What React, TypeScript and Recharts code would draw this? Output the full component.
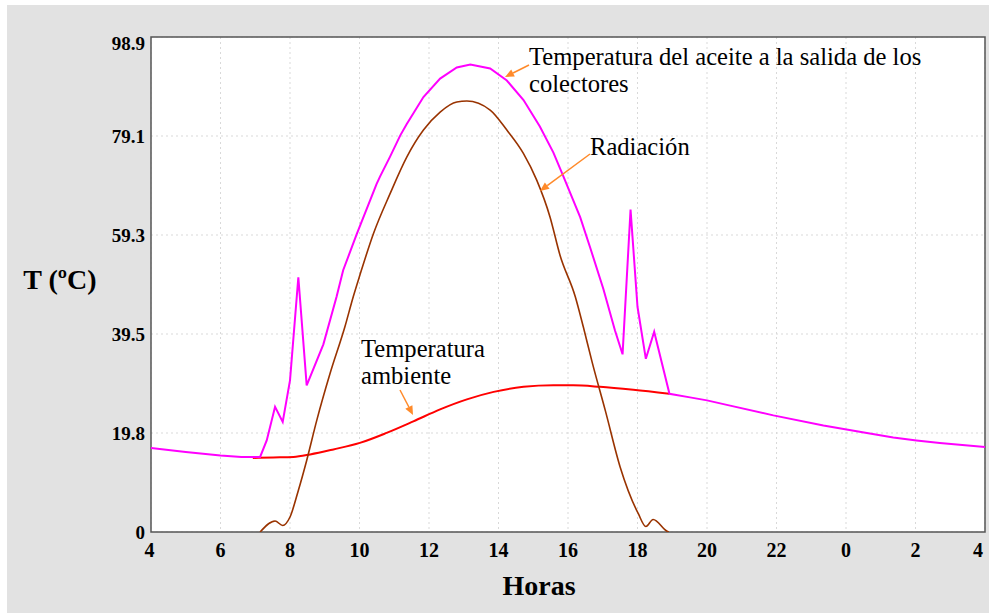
import React from "react";
import { LineChart, Line, XAxis, YAxis, CartesianGrid, ReferenceArea } from "recharts";

// Hours run from 4 h of one day to 4 h of the next (28 = 4 h next day)
const xTicks = [4, 6, 8, 10, 12, 14, 16, 18, 20, 22, 24, 26, 28];
const xTickLabels = ["4", "6", "8", "10", "12", "14", "16", "18", "20", "22", "0", "2", "4"];
const yTicks = [0, 19.78, 39.56, 59.34, 79.12, 98.9];
const yTickLabels = ["0", "19.8", "39.5", "59.3", "79.1", "98.9"];

// Temperatura del aceite a la salida de los colectores
const oilHours = [4, 5, 6, 6.6, 7.14, 7.33, 7.57, 7.79, 8.0, 8.24, 8.48, 8.96, 9.34, 9.53, 9.92, 10.49, 10.59, 10.88, 11.17, 11.36, 11.84, 12.32, 12.8, 13.19, 13.76, 14.24, 14.72, 15.19, 15.58, 15.87, 16.35, 16.63, 17.02, 17.35, 17.57, 17.8, 18.0, 18.24, 18.48, 18.92, 19.51, 20.0, 20.57, 21.91, 23.35, 24.6, 25.36, 26.03, 26.7, 28];
const oilTemp = [16.8, 16.0, 15.3, 15.0, 15.0, 18.3, 25.0, 22.0, 30.3, 50.9, 29.3, 37.5, 47.0, 52.3, 59.5, 69.5, 71.0, 75.0, 79.2, 81.5, 86.9, 90.6, 92.8, 93.4, 92.6, 90.2, 86.3, 81.0, 75.8, 71.0, 62.9, 57.0, 48.5, 40.3, 35.5, 64.4, 45.0, 34.6, 40.0, 27.6, 26.9, 26.3, 25.4, 23.3, 21.3, 19.8, 18.9, 18.3, 17.8, 17.0];

// Temperatura ambiente
const ambHours = [6.93, 7.52, 8.1, 8.58, 9.25, 10.01, 10.78, 11.55, 12.32, 13.09, 13.86, 14.72, 15.58, 16.15, 16.92, 17.88, 18.92];
const ambTemp = [14.8, 14.9, 15.0, 15.5, 16.5, 17.8, 19.8, 22.1, 24.5, 26.5, 28.0, 29.0, 29.3, 29.3, 29.0, 28.4, 27.6];

// Radiación
const radHours = [7.14, 7.57, 7.79, 8.0, 8.24, 8.48, 8.77, 9.15, 9.58, 9.82, 10.01, 10.4, 10.88, 11.36, 11.84, 12.32, 12.8, 13.09, 13.76, 14.24, 14.72, 15.1, 15.48, 15.77, 16.21, 16.44, 16.7, 17.08, 17.5, 18.02, 18.24, 18.45, 18.84, 18.9];
const radValues = [0, 2.2, 1.3, 3.0, 8.3, 14.3, 22.3, 31.6, 41.0, 47.0, 51.3, 59.6, 67.6, 74.9, 80.3, 83.9, 85.9, 86.1, 84.3, 80.3, 75.6, 70.3, 63.0, 55.3, 47.0, 41.0, 33.8, 24.1, 13.0, 3.7, 1.1, 2.5, 0.2, 0];

const oilData = oilHours.map((h, i) => ({ h, v: oilTemp[i] }));
const ambData = ambHours.map((h, i) => ({ h, v: ambTemp[i] }));
const radData = radHours.map((h, i) => ({ h, v: radValues[i] }));

const SERIF = '"Liberation Serif", "Times New Roman", serif';
const ORANGE = "#ff8a2a";

const YTick = (props: any) => {
  const { x, y, index } = props;
  const off = index === yTicks.length - 1 ? 6 : 0;
  return (
    <text x={x} y={y + off} dy="0.355em" textAnchor="end" fontFamily={SERIF} fontWeight="bold" fontSize={19} fill="#000">
      {yTickLabels[index]}
    </text>
  );
};

const XTick = (props: any) => {
  const { x, y, index } = props;
  let off = 0;
  if (index === 0) off = -1.5;
  if (index === xTicks.length - 1) off = -7;
  return (
    <text x={x + off} y={y} dy="0.71em" textAnchor="middle" fontFamily={SERIF} fontWeight="bold" fontSize={20} fill="#000">
      {xTickLabels[index]}
    </text>
  );
};

function Arrow({ x1, y1, x2, y2 }: { x1: number; y1: number; x2: number; y2: number }) {
  const dx = x2 - x1;
  const dy = y2 - y1;
  const len = Math.sqrt(dx * dx + dy * dy);
  const ux = dx / len;
  const uy = dy / len;
  const hl = 9;
  const hw = 4;
  const bx = x2 - ux * hl;
  const by = y2 - uy * hl;
  const pts = `${x2},${y2} ${bx - uy * hw},${by + ux * hw} ${bx + uy * hw},${by - ux * hw}`;
  return (
    <g>
      <line x1={x1} y1={y1} x2={bx} y2={by} stroke={ORANGE} strokeWidth={1.5} />
      <polygon points={pts} fill={ORANGE} />
    </g>
  );
}

export default function App() {
  return (
    <div style={{ position: "absolute", left: 0, top: 0, width: 989, height: 615, background: "#ffffff" }}>
      <div style={{ position: "absolute", left: 7, top: 5, width: 982, height: 608, background: "#e2e2e2" }} />
      <div style={{ position: "absolute", left: 0, top: 0 }}>
        <LineChart width={989} height={615} margin={{ top: 37, right: 4, left: 0, bottom: 0 }}>
          <CartesianGrid fill="#ffffff" fillOpacity={1} stroke="#d9d9d9" strokeDasharray="2 3" verticalValues={xTicks} horizontalValues={yTicks} />
          <XAxis
            dataKey="h"
            type="number"
            domain={[4, 28]}
            ticks={xTicks}
            interval={0}
            allowDataOverflow
            height={83}
            axisLine={false}
            tickLine={false}
            tickSize={0}
            tickMargin={11}
            tick={<XTick />}
          />
          <YAxis
            type="number"
            domain={[0, 98.9]}
            ticks={yTicks}
            interval={0}
            allowDataOverflow
            width={151}
            axisLine={false}
            tickLine={false}
            tickSize={0}
            tickMargin={6}
            tick={<YTick />}
          />
          <Line data={ambData} dataKey="v" type="monotone" stroke="#ff0000" strokeWidth={2} dot={false} isAnimationActive={false} />
          <Line data={oilData} dataKey="v" type="linear" stroke="#ff00ff" strokeWidth={2} dot={false} isAnimationActive={false} />
          <Line data={radData} dataKey="v" type="monotone" stroke="#993300" strokeWidth={1.6} dot={false} isAnimationActive={false} />
          <ReferenceArea x1={4} x2={28} y1={0} y2={98.9} fill="none" stroke="#555555" strokeWidth={1.5} ifOverflow="visible" />
        </LineChart>
      </div>
      <svg width={989} height={615} style={{ position: "absolute", left: 0, top: 0, pointerEvents: "none" }}>
        <text x={60} y={289} textAnchor="middle" fontFamily={SERIF} fontWeight="bold" fontSize={28} fill="#000">T (ºC)</text>
        <text x={539} y={595} textAnchor="middle" fontFamily={SERIF} fontWeight="bold" fontSize={28} fill="#000">Horas</text>
        <text x={529} y={65} fontFamily={SERIF} fontSize={24.6} fill="#000">Temperatura del aceite a la salida de los</text>
        <text x={529} y={92} fontFamily={SERIF} fontSize={24.6} fill="#000">colectores</text>
        <text x={590} y={155} fontFamily={SERIF} fontSize={24.6} fill="#000">Radiación</text>
        <text x={361} y={357} fontFamily={SERIF} fontSize={24.6} fill="#000">Temperatura</text>
        <text x={361} y={384} fontFamily={SERIF} fontSize={24.6} fill="#000">ambiente</text>
        <Arrow x1={529} y1={65} x2={505} y2={77} />
        <Arrow x1={590} y1={154} x2={540} y2={191} />
        <Arrow x1={400} y1={390} x2={413} y2={415} />
      </svg>
    </div>
  );
}
